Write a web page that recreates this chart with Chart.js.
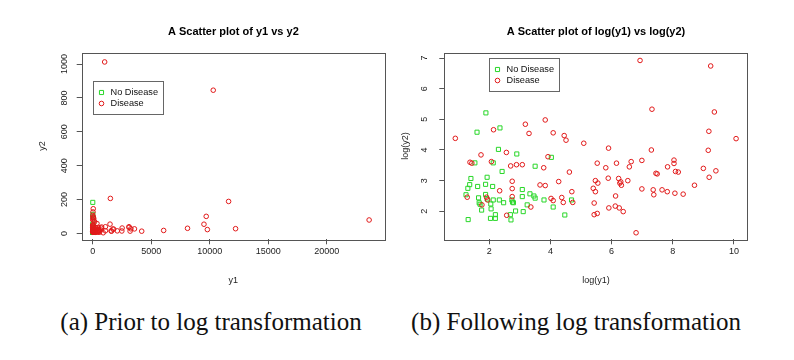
<!DOCTYPE html>
<html>
<head>
<meta charset="utf-8">
<script src="https://cdn.jsdelivr.net/npm/chart.js@4.4.0/dist/chart.umd.min.js"></script>
<style>
    body { margin: 0; background: #fff; width: 794px; height: 360px; position: relative; overflow: hidden; }
    canvas { position: absolute; top: 0; }
    #rawChart { left: 0; }
    #logChart { left: 400px; }
    .caption { position: absolute; top: 307px; width: 340px; height: 30px; line-height: 30px; text-align: center;
               font-family: "Liberation Serif", "DejaVu Serif", serif; font-size: 25px; color: #111; white-space: nowrap; }
</style>
</head>
<body>
<canvas id="rawChart" width="400" height="300"></canvas>
<canvas id="logChart" width="394" height="300"></canvas>
<div class="caption" style="left:41px">(a) Prior to log transformation</div>
<div class="caption" style="left:406px">(b) Following log transformation</div>
<script>
// values: log(y1), log(y2)
const noDiseaseLogY1 = [1.89, 1.60, 2.35, 2.30, 2.90, 4.03, 1.53, 2.13, 2.42, 3.50, 1.40, 1.93, 1.36, 1.62, 1.88, 2.11, 1.30,
    1.24, 1.88, 1.65, 3.08, 3.08, 3.33, 3.46, 3.50, 1.67, 1.70, 1.93, 2.13, 2.33, 2.47, 2.74, 2.79, 3.79, 4.09, 3.24,
    2.06, 1.75, 2.04, 2.20, 2.20, 2.86, 3.11, 2.71, 2.69, 1.31, 4.47, 4.69, 2.05, 2.76];
const noDiseaseLogY2 = [5.21, 4.58, 4.72, 4.02, 3.87, 3.76, 3.58, 3.58, 3.30, 3.47, 3.07, 3.11, 2.87, 2.81, 2.88, 2.81, 2.75,
    2.54, 2.55, 2.44, 2.71, 2.48, 2.57, 2.50, 2.43, 2.28, 2.23, 2.40, 2.37, 2.37, 2.28, 2.37, 2.28, 2.37, 2.14, 2.21,
    2.08, 2.04, 1.77, 1.89, 1.77, 2.01, 1.99, 1.72, 1.89, 1.73, 1.88, 2.37, 2.24, 2.30];
const diseaseLogY1 = [0.89, 1.37, 1.43, 1.28, 1.73, 1.76, 1.91, 1.95, 2.07, 2.14, 2.34, 2.56, 2.57, 2.70, 2.75, 2.75, 2.75,
    2.89, 3.08, 3.18, 3.30, 3.36, 3.83, 3.78, 3.92, 3.66, 3.83, 4.02, 4.09, 4.09, 4.27, 4.37, 4.42, 4.45, 4.51, 4.62,
    4.70, 4.73, 5.09, 5.90, 5.81, 5.53, 6.16, 6.64, 6.58, 6.99, 8.04, 8.04, 7.83, 7.45, 7.49, 8.09, 8.18, 9.00, 9.41,
    9.19, 8.71, 5.89, 6.23, 6.30, 6.32, 6.27, 6.53, 5.47, 5.55, 5.40, 5.47, 6.99, 7.36, 7.38, 7.65, 7.82, 8.07, 8.34,
    5.43, 6.13, 5.43, 5.53, 5.91, 6.12, 6.25, 6.38, 6.80, 6.93, 9.24, 7.32, 9.36, 9.18, 10.07, 7.30, 9.16];
const diseaseLogY2 = [4.38, 3.60, 3.57, 2.46, 3.84, 2.21, 2.46, 2.37, 3.62, 4.66, 2.67, 3.92, 1.87, 3.48, 2.98, 2.74, 2.48,
    3.52, 3.52, 4.84, 4.54, 2.14, 4.98, 3.42, 3.78, 2.86, 2.84, 2.42, 2.35, 4.56, 2.97, 2.45, 2.29, 4.47, 4.32, 3.28,
    2.64, 2.29, 4.22, 4.06, 3.42, 3.57, 3.57, 3.62, 3.45, 3.66, 3.67, 3.56, 3.45, 3.24, 3.22, 3.30, 3.28, 3.40, 3.32,
    3.11, 2.85, 3.08, 3.07, 2.96, 2.85, 2.92, 3.00, 3.00, 2.92, 2.75, 2.64, 2.73, 2.70, 2.54, 2.70, 2.64, 2.59, 2.56,
    2.27, 2.50, 1.89, 1.93, 2.11, 2.17, 2.11, 1.99, 1.30, 6.92, 6.74, 5.33, 5.24, 4.61, 4.37, 4.00, 3.99];

const groupLabels = ['No Disease', 'Disease'];
const rawY1Ticks = [0, 5000, 10000, 15000, 20000];
const rawY2Ticks = [0, 200, 400, 600, 800, 1000];
const logY1Ticks = [2, 4, 6, 8, 10];
const logY2Ticks = [2, 3, 4, 5, 6, 7];

const GREEN = 'rgb(40,215,40)';
const RED = 'rgb(225,25,25)';
const SANS = '"Liberation Sans", Arial, sans-serif';

// the raw plot shows the same observations before the log transform
function toPoints(xs, ys, f) {
    return xs.map((v, i) => ({ x: f(v), y: f(ys[i]) }));
}

// box round the plot region plus an R style legend anchored in data units
const rFrame = {
    id: 'rFrame',
    afterDatasetsDraw(chart, args, opts) {
        const { ctx, chartArea: a, scales } = chart;
        ctx.save();
        ctx.strokeStyle = '#555';
        ctx.lineWidth = 1;
        ctx.strokeRect(Math.round(a.left) + 0.5, Math.round(a.top) + 0.5,
            Math.round(a.right - a.left), Math.round(a.bottom - a.top));

        const lx = Math.round(scales.x.getPixelForValue(opts.at[0])) + 0.5;
        const ly = Math.round(scales.y.getPixelForValue(opts.at[1])) + 0.5;
        ctx.strokeStyle = '#666';
        ctx.fillStyle = '#fff';
        ctx.fillRect(lx, ly, 70, 33);
        ctx.strokeRect(lx, ly, 70, 33);
        ctx.font = '9.2px ' + SANS;
        ctx.textBaseline = 'middle';
        chart.data.datasets.forEach((ds, i) => {
            const rowY = ly + 11 + i * 11;
            const r = ds.pointRadius;
            ctx.beginPath();
            if (ds.pointStyle === 'rect') {
                const h = r * Math.SQRT1_2;
                ctx.rect(lx + 8 - h, rowY - h, 2 * h, 2 * h);
            } else {
                ctx.arc(lx + 8, rowY, r, 0, Math.PI * 2);
            }
            ctx.lineWidth = 1;
            ctx.strokeStyle = ds.borderColor;
            ctx.stroke();
            ctx.fillStyle = '#111';
            ctx.fillText(ds.label, lx + 17, rowY);
        });
        ctx.restore();
    }
};

function makeDatasets(f) {
    return [
        {
            label: groupLabels[0],
            data: toPoints(noDiseaseLogY1, noDiseaseLogY2, f),
            pointStyle: 'rect',
            pointRadius: 2.9,
            borderColor: GREEN,
            backgroundColor: 'rgba(0,0,0,0)',
            borderWidth: 1,
            order: 1
        },
        {
            label: groupLabels[1],
            data: toPoints(diseaseLogY1, diseaseLogY2, f),
            pointStyle: 'circle',
            pointRadius: 2.3,
            borderColor: RED,
            backgroundColor: 'rgba(0,0,0,0)',
            borderWidth: 1,
            order: 0
        }
    ];
}

function makeAxis(cfg) {
    const horizontal = cfg.position === 'bottom';
    return {
        type: 'linear',
        position: cfg.position,
        min: cfg.min,
        max: cfg.max,
        afterBuildTicks: s => { s.ticks = cfg.ticks.map(v => ({ value: v })); },
        afterFit: s => { if (horizontal) s.height = cfg.size; else s.width = cfg.size; },
        ticks: {
            callback: v => String(v),
            padding: cfg.pad,
            color: '#222',
            font: { family: SANS, size: 9 },
            minRotation: horizontal ? 0 : 90,
            maxRotation: horizontal ? 0 : 90,
            crossAlign: 'center'
        },
        grid: { drawOnChartArea: false, drawTicks: true, tickLength: 5, color: '#555' },
        border: { display: false },
        title: { display: true, text: cfg.title, padding: 0, color: '#222', font: { family: SANS, size: 9 } }
    };
}

function makeChart(id, f, title, xAxis, yAxis, padding, legendAt) {
    return new Chart(document.getElementById(id), {
        type: 'scatter',
        data: { datasets: makeDatasets(f) },
        options: {
            responsive: false,
            animation: false,
            events: [],
            layout: { padding: padding },
            scales: { x: makeAxis(xAxis), y: makeAxis(yAxis) },
            plugins: {
                legend: { display: false },
                tooltip: { enabled: false },
                title: {
                    display: true,
                    text: title,
                    fullSize: false,
                    color: '#000',
                    font: { family: SANS, size: 11, weight: 'bold' },
                    padding: { top: 24.9, bottom: 14.6 }
                },
                rFrame: { at: legendAt }
            }
        },
        plugins: [rFrame]
    });
}

makeChart('rawChart', Math.exp, 'A Scatter plot of y1 vs y2',
    { position: 'bottom', min: -940, max: 24980, ticks: rawY1Ticks, size: 46.7, pad: 7.6, title: 'y1' },
    { position: 'left', min: -35, max: 1067, ticks: rawY2Ticks, size: 44.7, pad: 1.7, title: 'y2' },
    { left: 37, right: 15, top: 0, bottom: 14 }, [0, 900]);

makeChart('logChart', v => v, 'A Scatter plot of log(y1) vs log(y2)',
    { position: 'bottom', min: 0.53, max: 10.45, ticks: logY1Ticks, size: 46.7, pad: 7.6, title: 'log(y1)' },
    { position: 'left', min: 1.087, max: 7.173, ticks: logY2Ticks, size: 44.3, pad: 11.8, title: 'log(y2)' },
    { left: 0, right: 46.3, top: 0, bottom: 14 }, [2, 7]);
</script>
</body>
</html>
